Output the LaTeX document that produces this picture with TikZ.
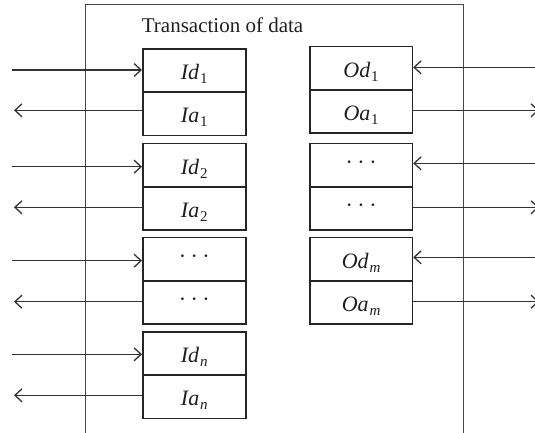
\documentclass[tikz,border=0pt]{standalone}
\usepackage{fontspec}
\setmainfont{Liberation Serif}
\usetikzlibrary{arrows.meta}
% signal name with a lowered index
\newcommand\sig[2]{\textit{#1}\kern0.8pt\raisebox{-4pt}{\fontsize{15}{15}\selectfont #2}}
\newcommand\dotrow{\raisebox{5pt}{·\hspace{4.5pt}·\hspace{4.5pt}·}}
\tikzset{
  frame/.style={draw=black!72, line width=1.4pt},
  cell/.style={draw=black!85, line width=1.5pt, anchor=north west, inner sep=0pt,
    minimum height=43.3pt, text height=18.4pt, text depth=0pt,
    font=\fontsize{22}{22}\selectfont, text=black!88},
  link/.style={draw=black!80, line width=1.3pt, -{Straight Barb[length=7pt,width=13pt,line width=1.3pt]}}
}
\begin{document}
\begin{tikzpicture}[x=1pt,y=-1pt]
\useasboundingbox (0,0) rectangle (535,432);
\clip (0,0) rectangle (535,432);
% enclosing frame, open at the bottom
\draw[frame] (85.7,440) |- (463.3,4.7) -- (463.3,440);
\node[anchor=base west, inner sep=0pt, font=\fontsize{21}{21}\selectfont, text=black!88]
  (title) at (141.7,32.3) {Transaction of data};
% input side: data cell and acknowledge cell per channel
\foreach \k/\t/\yi/\yo/\ld/\la in {
  1/48/70/110.3/{\sig{Id}{1}}/{\sig{Ia}{1}},
  2/142.7/166.7/207.3/{\sig{Id}{2}}/{\sig{Ia}{2}},
  3/236.7/260.7/301.7/{\dotrow}/{\dotrow},
  4/331/354.3/395.3/{\sig{Id}{\textit{n}}}/{\sig{Ia}{\textit{n}}}}{
  \node[cell, minimum width=103pt] (Ld\k) at (142,\t) {\ld};
  \node[cell, minimum width=103pt] (La\k) at (142,\t+43.3) {\la};
  \coordinate (Lin\k) at (12,\yi);
  \coordinate (Lout\k) at (14,\yo);
  \draw[link] (Lin\k) -- (Lin\k -| Ld\k.west);
  \draw[link] (Lout\k -| La\k.west) -- (Lout\k);
}
% output side
\foreach \k/\t/\yi/\yo/\ld/\la in {
  1/45.7/67.3/110.3/{\sig{Od}{1}}/{\sig{Oa}{1}},
  2/142.7/163.3/207.3/{\dotrow}/{\dotrow},
  3/236.7/257.3/301.7/{\sig{Od}{\textit{m}}}/{\sig{Oa}{\textit{m}}}}{
  \node[cell, minimum width=102.7pt] (Rd\k) at (309,\t) {\ld};
  \node[cell, minimum width=102.7pt] (Ra\k) at (309,\t+43.3) {\la};
  \coordinate (Rin\k) at (541,\yi);
  \coordinate (Rout\k) at (539,\yo);
  \draw[link] (Rin\k) -- (Rin\k -| Rd\k.east);
  \draw[link] (Rout\k -| Ra\k.east) -- (Rout\k);
}
\end{tikzpicture}
\end{document}
